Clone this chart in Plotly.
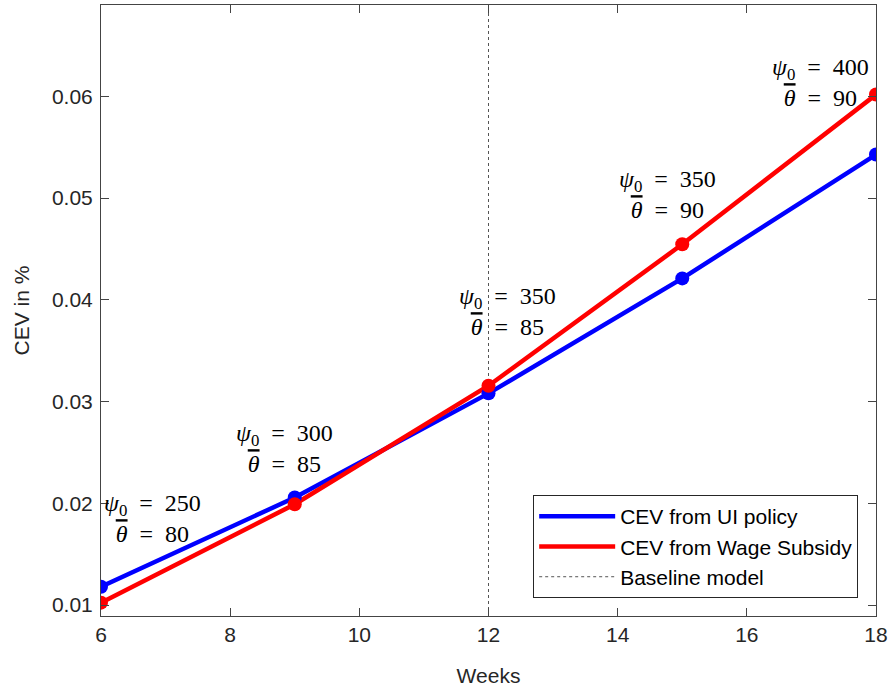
import plotly.graph_objects as go

weeks = [6, 9, 12, 15, 18]
cev_ui = [0.0118, 0.02056, 0.0308, 0.0421, 0.05427]
cev_ws = [0.01023, 0.0199, 0.03155, 0.04545, 0.06017]
baseline_week = 12
psi0 = [250, 300, 350, 350, 400]
theta_bar = [80, 85, 85, 90, 90]
# annotation anchor positions (data coords)
lab_x = [6.805, 8.834, 12.287, 14.764, 17.133]
lab_y = [0.01855, 0.02543, 0.03889, 0.0503, 0.0614]

y_range = [0.00892, 0.06897]
x_ticks = [6, 8, 10, 12, 14, 16, 18]
y_ticks = [0.01, 0.02, 0.03, 0.04, 0.05, 0.06]

BLUE = "#0000FF"
RED = "#FF0000"
SANS = "Liberation Sans, Arial, sans-serif"
SERIF = "Liberation Serif"

fig = go.Figure()
fig.add_trace(go.Scatter(x=weeks, y=cev_ui, mode="lines", name="CEV from UI policy",
                         line=dict(color=BLUE, width=4.5)))
fig.add_trace(go.Scatter(x=weeks, y=cev_ws, mode="lines", name="CEV from Wage Subsidy",
                         line=dict(color=RED, width=4.5)))
fig.add_trace(go.Scatter(x=[baseline_week, baseline_week], y=y_range, mode="lines", name="Baseline model",
                         line=dict(color="#555555", width=1, dash="3px,3px")))
fig.add_trace(go.Scatter(x=weeks, y=cev_ui, mode="markers", showlegend=False,
                         marker=dict(size=14, color=BLUE)))
fig.add_trace(go.Scatter(x=weeks, y=cev_ws, mode="markers", showlegend=False,
                         marker=dict(size=14, color=RED)))

SP = "\u2002"
for xi, yi, p, t in zip(lab_x, lab_y, psi0, theta_bar):
    fig.add_annotation(x=xi, y=yi, xref="x", yref="y", showarrow=False,
                       text=(f"<i>ψ</i><sub>0</sub>{SP}={SP}{p}<br>"
                             f"<span style=\"text-decoration:overline\"><i>θ</i></span>{SP}={SP}{t}"),
                       font=dict(family=SERIF, size=24, color="black"),
                       align="center", xanchor="center", yanchor="middle")

axis_common = dict(showline=True, linecolor="#444444", linewidth=1, mirror="ticks",
                   ticks="inside", ticklen=8, tickcolor="#444444", showgrid=False, zeroline=False,
                   automargin=False,
                   tickfont=dict(family=SANS, size=21, color="#262626"))

fig.update_layout(
    width=891, height=690,
    margin=dict(l=101, r=15, t=5, b=74),
    paper_bgcolor="white", plot_bgcolor="white",
    xaxis=dict(range=[6, 18], tickvals=x_ticks,
               title=dict(text="Weeks", font=dict(family=SANS, size=21, color="#262626"), standoff=23),
               **axis_common),
    yaxis=dict(range=y_range, tickvals=y_ticks, ticktext=[f"{v:.2f}" for v in y_ticks],
               ticklabelstandoff=3,
               title=dict(text="CEV in %", font=dict(family=SANS, size=21, color="#262626"), standoff=16),
               **axis_common),
    legend=dict(x=0.977, y=0.0295, xanchor="right", yanchor="bottom",
                bordercolor="#262626", borderwidth=1, bgcolor="white",
                font=dict(family=SANS, size=21, color="black"),
                tracegroupgap=0, itemwidth=76),
    showlegend=True,
)

fig.write_html("out.html", config={"displayModeBar": False},
               post_script="document.body.style.margin='0';")
